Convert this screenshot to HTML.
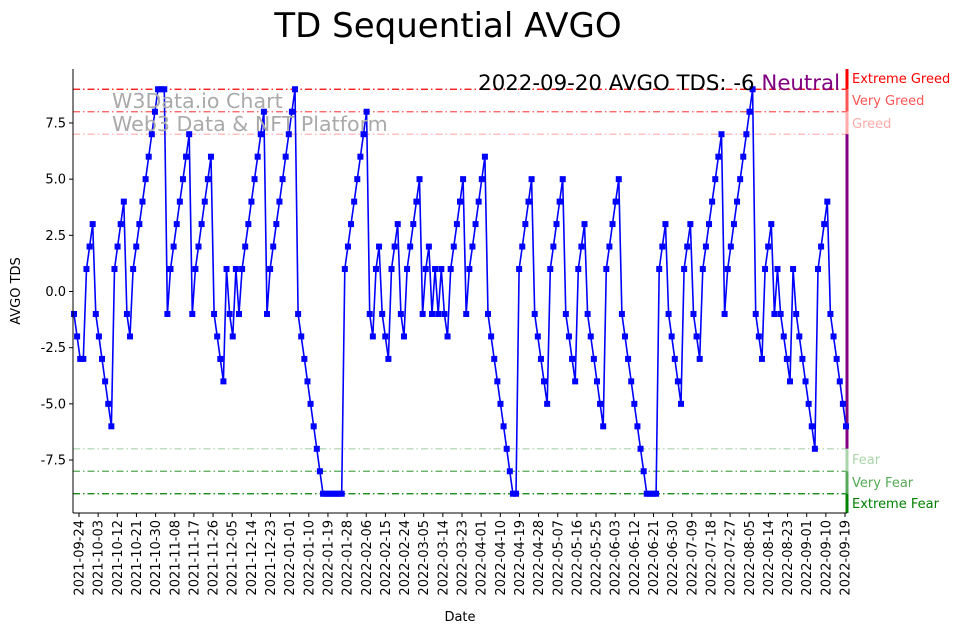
<!DOCTYPE html>
<html><head><meta charset="utf-8"><style>
body{margin:0;background:#fff;}
svg{display:block;font-family:"Liberation Sans","DejaVu Sans",sans-serif;}
</style></head><body>
<svg id="chart" width="967" height="633" viewBox="0 0 967 633" xmlns="http://www.w3.org/2000/svg">
<text x="448" y="37" font-size="34" text-anchor="middle" fill="#000" font-family="DejaVu Sans, sans-serif">TD Sequential AVGO</text>
<g id="grid"></g>
<g id="series"></g>
<g id="axes"></g>
<text x="112" y="108" font-size="20.6" fill="#aaa" font-family="DejaVu Sans, sans-serif">W3Data.io Chart</text>
<text x="112" y="131" font-size="20.6" fill="#aaa" font-family="DejaVu Sans, sans-serif">Web3 Data &amp; NFT Platform</text>
<text x="840" y="90" font-size="21.3" text-anchor="end" font-family="DejaVu Sans, sans-serif"><tspan fill="#000">2022-09-20 AVGO TDS: -6 </tspan><tspan fill="#800080">Neutral</tspan></text>
<text transform="translate(20,291) rotate(-90)" font-size="13" text-anchor="middle" font-family="DejaVu Sans, sans-serif">AVGO TDS</text>
<text x="460" y="621" font-size="13" text-anchor="middle" font-family="DejaVu Sans, sans-serif">Date</text>
</svg>
<script>
const values = [-1,-2,-3,-3,1,2,3,-1,-2,-3,-4,-5,-6,1,2,3,4,-1,-2,1,2,3,4,5,6,7,8,9,9,9,
-1,1,2,3,4,5,6,7,-1,1,2,3,4,5,6,-1,-2,-3,-4,1,-1,-2,1,-1,1,2,3,4,5,6,7,8,-1,1,2,3,4,5,6,7,8,9,
-1,-2,-3,-4,-5,-6,-7,-8,-9,-9,-9,-9,-9,-9,-9,
1,2,3,4,5,6,7,8,-1,-2,1,2,-1,-2,-3,1,2,3,-1,-2,1,2,3,4,5,-1,1,2,-1,1,-1,1,-1,-2,1,2,3,4,5,-1,1,2,3,4,5,6,-1,-2,-3,-4,-5,-6,-7,-8,-9,-9,
1,2,3,4,5,-1,-2,-3,-4,-5,1,2,3,4,5,-1,-2,-3,-4,1,2,3,-1,-2,-3,-4,-5,-6,1,2,3,4,5,-1,-2,-3,-4,-5,-6,-7,-8,-9,-9,-9,-9,
1,2,3,-1,-2,-3,-4,-5,1,2,3,-1,-2,-3,1,2,3,4,5,6,7,-1,1,2,3,4,5,6,7,8,9,-1,-2,-3,1,2,3,-1,1,-1,-2,-3,-4,1,-1,-2,-3,-4,-5,-6,-7,1,2,3,4,-1,-2,-3,-4,-5,-6];
const yTicks = [-7.5,-5.0,-2.5,0.0,2.5,5.0,7.5];
const xTickLabels = ["2021-09-24","2021-10-03","2021-10-12","2021-10-21","2021-10-30","2021-11-08","2021-11-17","2021-11-26","2021-12-05","2021-12-14","2021-12-23","2022-01-01","2022-01-10","2022-01-19","2022-01-28","2022-02-06","2022-02-15","2022-02-24","2022-03-05","2022-03-14","2022-03-23","2022-04-01","2022-04-10","2022-04-19","2022-04-28","2022-05-07","2022-05-16","2022-05-25","2022-06-03","2022-06-12","2022-06-21","2022-06-30","2022-07-09","2022-07-18","2022-07-27","2022-08-05","2022-08-14","2022-08-23","2022-09-01","2022-09-10","2022-09-19"];
const levels = [9,8,7,-7,-8,-9];
const levelColors = ["#ff0000","#ff5555","#ffaaaa","#aad4aa","#55aa55","#008000"];
const zoneNames = ["Extreme Greed","Very Greed","Greed","Fear","Very Fear","Extreme Fear"];

const NS="http://www.w3.org/2000/svg";
const L=73,R=847,T=69,B=513;
const y=v=>291.5-v*22.47;
const firstX=74,lastX=846;
const xi=i=>firstX+i*(lastX-firstX)/(values.length-1);
const xt=k=>79+k*(845-79)/(xTickLabels.length-1);
function mk(tag,attrs,parent){const e=document.createElementNS(NS,tag);for(const k in attrs)e.setAttribute(k,attrs[k]);parent.appendChild(e);return e;}
const grid=document.getElementById('grid'),ser=document.getElementById('series'),ax=document.getElementById('axes');

levels.forEach((lv,i)=>{
  const ln=mk('line',{x1:L,x2:R,y1:y(lv),y2:y(lv),stroke:levelColors[i],'stroke-width':1.2,'stroke-dasharray':'7,3,1.5,3'},grid);
  
  
});
const segs=[[T,y(9),"#ff0000"],[y(9),y(8),"#ff5555"],[y(8),y(7),"#ffaaaa"],[y(7),y(-7),"#800080"],[y(-7),y(-8),"#aad4aa"],[y(-8),y(-9),"#55aa55"],[y(-9),B,"#008000"]];
segs.forEach((s,i)=>{
  const r=mk('rect',{x:R-1.5,y:s[0],width:3,height:s[1]-s[0],fill:s[2]},grid);
  
  
});
const labelY=[78,100,123,459,482,503];
zoneNames.forEach((n,i)=>{
  const t=mk('text',{x:852,y:labelY[i]+5,'font-size':13,fill:levelColors[i],'font-family':'DejaVu Sans, sans-serif'},grid);
  t.textContent=n;
  
  
});

let d='';values.forEach((v,i)=>{d+=(i?'L':'M')+xi(i).toFixed(1)+','+y(v).toFixed(1);});
const path=mk('path',{d:d,fill:'none',stroke:'#0000ff','stroke-width':1.6},ser);


values.forEach((v,i)=>{
  const m=mk('rect',{x:xi(i)-3,y:y(v)-3,width:6,height:6,fill:'#0000ff'},ser);
  
  
});

const sp1=mk('line',{x1:L,x2:L,y1:T,y2:B,stroke:'#000','stroke-width':1},ax);


const sp2=mk('line',{x1:L,x2:R,y1:B,y2:B,stroke:'#000','stroke-width':1},ax);


yTicks.forEach(v=>{
  mk('line',{x1:L-4,x2:L,y1:y(v),y2:y(v),stroke:'#000'},ax);
  const t=mk('text',{x:L-7,y:y(v)+4.5,'font-size':13,'text-anchor':'end','font-family':'DejaVu Sans, sans-serif'},ax);
  t.textContent=v.toFixed(1);
  
  
});
xTickLabels.forEach((s,k)=>{
  const x=xt(k);
  mk('line',{x1:x,x2:x,y1:B,y2:B+4,stroke:'#000'},ax);
  const t=mk('text',{transform:`translate(${x+4.5},${B+7}) rotate(-90)`,'font-size':13,'text-anchor':'end','font-family':'DejaVu Sans, sans-serif'},ax);
  t.textContent=s;
  
  
});
</script>
</body></html>
